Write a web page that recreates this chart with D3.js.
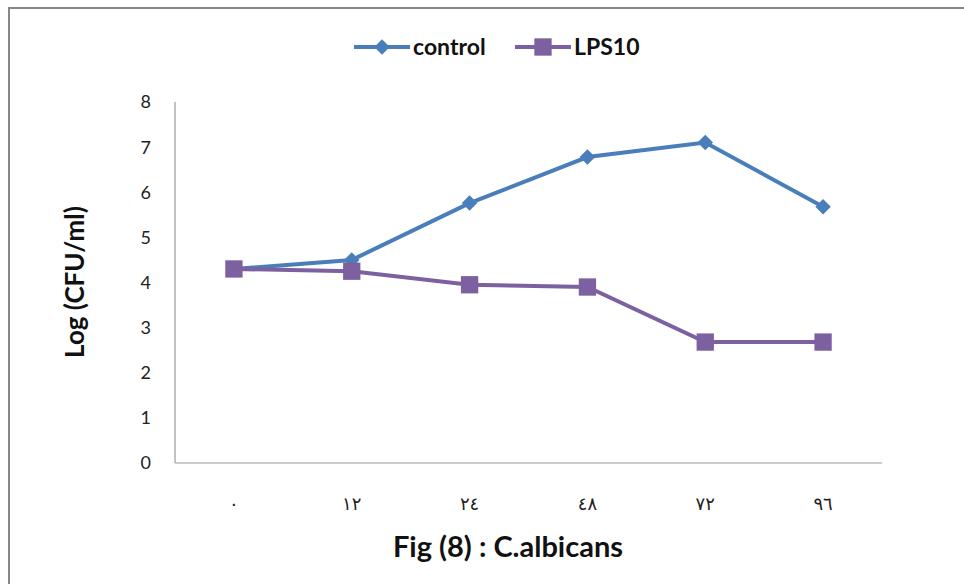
<!DOCTYPE html>
<html lang="en">
<head>
  <meta charset="UTF-8">
  <title>Fig (8) : C.albicans</title>
  <script src="https://d3js.org/d3.v7.min.js"></script>
  <style>
    body { margin: 0; background: #fff; font-family: Lato, "DejaVu Sans", sans-serif; }
  </style>
</head>
<body>
<svg id="chart" width="964" height="584"></svg>
<script>
  // data
  const hours = ["٠", "١٢", "٢٤", "٤٨", "٧٢", "٩٦"];
  const control = [4.3, 4.5, 5.76, 6.78, 7.1, 5.68];
  const lps10 = [4.3, 4.25, 3.95, 3.9, 2.68, 2.68];
  const yTicks = [0, 1, 2, 3, 4, 5, 6, 7, 8];

  const series = [
    { name: "control", values: control, color: "#4A7EBB", shape: "diamond" },
    { name: "LPS10", values: lps10, color: "#7D60A0", shape: "square" }
  ];

  const svg = d3.select("#chart");
  const margin = { top: 102, right: 82, bottom: 121, left: 175 };
  const width = 964, height = 584;

  // outer frame (runs off the right/bottom edge)
  svg.append("rect")
    .attr("x", 9).attr("y", 8)
    .attr("width", 1000).attr("height", 600)
    .attr("fill", "none").attr("stroke", "#888").attr("stroke-width", 2);

  const x = d3.scaleBand()
    .domain(hours)
    .range([margin.left, width - margin.right]);

  const y = d3.scaleLinear()
    .domain([0, 8])
    .range([height - margin.bottom, margin.top]);

  // axis lines
  svg.append("line")
    .attr("x1", margin.left).attr("x2", margin.left)
    .attr("y1", y(8)).attr("y2", y(0))
    .attr("stroke", "#999").attr("stroke-width", 1.2);
  svg.append("line")
    .attr("x1", margin.left).attr("x2", width - margin.right)
    .attr("y1", y(0)).attr("y2", y(0))
    .attr("stroke", "#999").attr("stroke-width", 1.2);

  // y tick labels
  svg.append("g").selectAll("text")
    .data(yTicks)
    .join("text")
    .attr("x", 151)
    .attr("y", d => y(d))
    .attr("dy", "0.36em")
    .attr("text-anchor", "end")
    .attr("font-size", 18)
    .attr("fill", "#222")
    .text(d => d);

  // x tick labels
  svg.append("g").selectAll("text")
    .data(hours)
    .join("text")
    .attr("x", d => x(d) + x.bandwidth() / 2)
    .attr("y", 510)
    .attr("text-anchor", "middle")
    .attr("font-family", "'DejaVu Sans', sans-serif")
    .attr("font-size", 18)
    .attr("fill", "#222")
    .text(d => d);

  // axis titles
  svg.append("text")
    .attr("transform", `translate(75,${282}) rotate(-90)`)
    .attr("dy", "0.36em")
    .attr("text-anchor", "middle")
    .attr("font-size", 26)
    .attr("font-weight", "bold")
    .attr("fill", "#111")
    .text("Log (CFU/ml)");

  svg.append("text")
    .attr("x", 508)
    .attr("y", 557)
    .attr("text-anchor", "middle")
    .attr("font-size", 29)
    .attr("font-weight", "bold")
    .attr("fill", "#111")
    .text("Fig (8) : C.albicans");

  const line = d3.line()
    .x((d, i) => x(hours[i]) + x.bandwidth() / 2)
    .y(d => y(d));

  const diamond = d3.symbol().type(d3.symbolSquare).size(120);
  const square = d3.symbol().type(d3.symbolSquare).size(300);

  function marker(g, s, cx, cy) {
    if (s.shape === "diamond") {
      g.append("path").attr("d", diamond())
        .attr("transform", `translate(${cx},${cy}) rotate(45)`)
        .attr("fill", s.color);
    } else {
      g.append("path").attr("d", square())
        .attr("transform", `translate(${cx},${cy})`)
        .attr("fill", s.color);
    }
  }

  series.forEach(s => {
    const g = svg.append("g");
    g.append("path")
      .datum(s.values)
      .attr("d", line)
      .attr("fill", "none")
      .attr("stroke", s.color)
      .attr("stroke-width", 4);
    s.values.forEach((v, i) => marker(g, s, x(hours[i]) + x.bandwidth() / 2, y(v)));
  });

  // legend
  const legendPos = [{ x1: 354, x2: 410, tx: 413 }, { x1: 515, x2: 571, tx: 574 }];
  series.forEach((s, i) => {
    const p = legendPos[i];
    const g = svg.append("g");
    g.append("line")
      .attr("x1", p.x1).attr("x2", p.x2)
      .attr("y1", 47).attr("y2", 47)
      .attr("stroke", s.color).attr("stroke-width", 4);
    marker(g, s, (p.x1 + p.x2) / 2, 47);
    g.append("text")
      .attr("x", p.tx).attr("y", 47)
      .attr("dy", "0.36em")
      .attr("font-size", 23)
      .attr("font-weight", "bold")
      .attr("fill", "#111")
      .text(s.name);
  });
</script>
</body>
</html>
